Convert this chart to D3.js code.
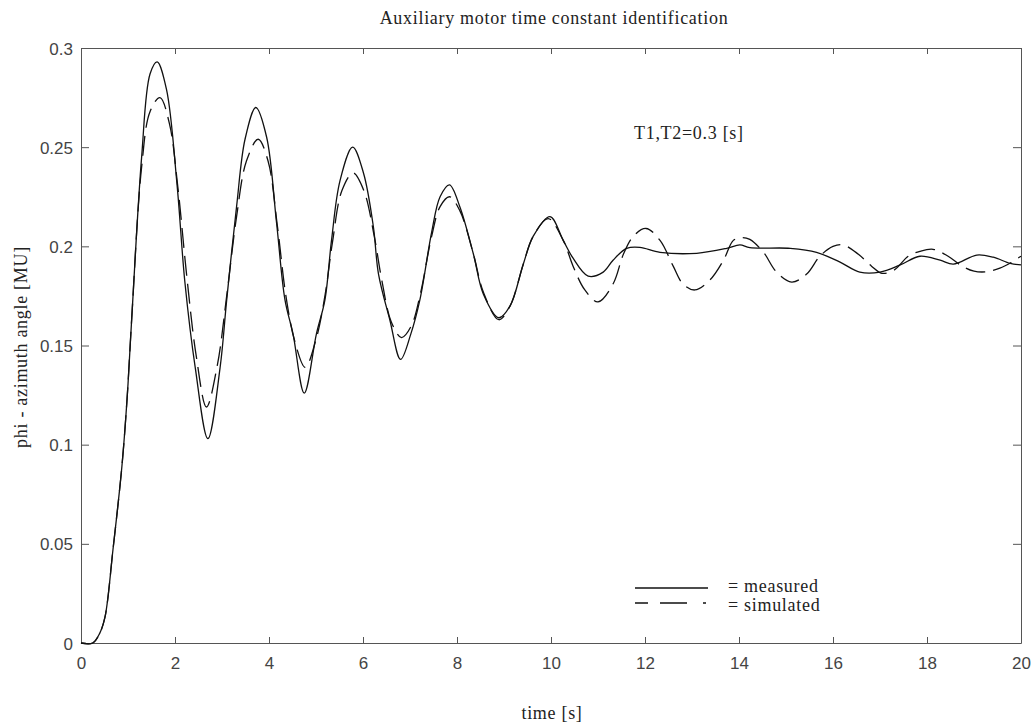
<!DOCTYPE html>
<html>
<head>
<meta charset="utf-8">
<script src="https://cdn.jsdelivr.net/npm/d3@7"></script>
<style>
  body { margin: 0; background: #fff; }
  .tick text { font-family: "Liberation Sans", Arial, sans-serif; font-size: 17px; fill: #444; }
  .domain, .tick line { stroke: #555; }
  .lbl { font-family: "Liberation Serif", "Times New Roman", serif; font-size: 18px; letter-spacing: 0.7px; fill: #222; }
</style>
</head>
<body>
<script>
// data
var xTicks = [0, 2, 4, 6, 8, 10, 12, 14, 16, 18, 20];
var yTicks = [0, 0.05, 0.1, 0.15, 0.2, 0.25, 0.3];
var yTickLabels = ['0', '0.05', '0.1', '0.15', '0.2', '0.25', '0.3'];

var measuredT = [0, 0.25, 0.4, 0.51, 0.68, 0.87, 0.98, 1.08, 1.29, 1.47, 1.62, 1.82, 2.04, 2.21, 2.43, 2.70,
  2.96, 3.10, 3.31, 3.49, 3.72, 3.95, 4.16, 4.34, 4.51, 4.75, 5.01, 5.19, 5.33, 5.51, 5.78, 6.01, 6.22,
  6.33, 6.57, 6.80, 7.02, 7.21, 7.46, 7.64, 7.84, 8.06, 8.35, 8.56, 8.89, 9.13, 9.41, 9.62, 9.98, 10.26,
  10.47, 10.79, 11.11, 11.32, 11.61, 11.89, 12.32, 13.1, 13.74, 14.02, 14.23, 15.09, 15.65, 16.15, 16.57,
  17.0, 17.43, 17.85, 18.28, 18.56, 19.06, 19.41, 19.77, 20];
var measuredV = [0, 0, 0.005, 0.013, 0.047, 0.089, 0.123, 0.164, 0.245, 0.287, 0.293, 0.279, 0.232, 0.182, 0.139, 0.103,
  0.139, 0.173, 0.220, 0.254, 0.270, 0.255, 0.212, 0.173, 0.156, 0.126, 0.156, 0.173, 0.203, 0.233, 0.250, 0.237, 0.210,
  0.186, 0.163, 0.143, 0.156, 0.173, 0.207, 0.225, 0.231, 0.220, 0.196, 0.176, 0.164, 0.170, 0.191, 0.205, 0.215, 0.203,
  0.194, 0.185, 0.187, 0.193, 0.199, 0.1995, 0.197, 0.1965, 0.199, 0.2007, 0.1993, 0.199, 0.197, 0.192, 0.187,
  0.187, 0.1906, 0.195, 0.193, 0.191, 0.1956, 0.1945, 0.1914, 0.1906];

var simulatedT = [0, 0.25, 0.4, 0.51, 0.68, 0.87, 0.98, 1.08, 1.29, 1.47, 1.68, 1.88, 2.06, 2.25, 2.45, 2.67,
  2.90, 3.10, 3.31, 3.52, 3.77, 3.98, 4.18, 4.36, 4.55, 4.77, 5.00, 5.19, 5.35, 5.55, 5.79, 6.02, 6.24,
  6.40, 6.60, 6.82, 7.03, 7.22, 7.46, 7.64, 7.84, 8.06, 8.35, 8.56, 8.89, 9.13, 9.41, 9.62, 9.94, 10.26,
  10.47, 10.72, 11.0, 11.32, 11.54, 11.75, 12.02, 12.32, 12.6, 12.81, 13.06, 13.38, 13.67, 13.88, 14.06,
  14.23, 14.52, 14.8, 15.12, 15.44, 15.72, 16.0, 16.22, 16.54, 16.82, 17.04, 17.3, 17.6, 17.85, 18.13,
  18.45, 18.75, 19.0, 19.27, 19.55, 19.8, 20];
var simulatedV = [0, 0, 0.005, 0.013, 0.047, 0.089, 0.123, 0.164, 0.240, 0.268, 0.275, 0.262, 0.230, 0.185, 0.145, 0.119,
  0.140, 0.175, 0.215, 0.243, 0.254, 0.243, 0.210, 0.175, 0.152, 0.139, 0.153, 0.175, 0.202, 0.228, 0.237, 0.228, 0.205,
  0.183, 0.162, 0.154, 0.160, 0.176, 0.205, 0.220, 0.225, 0.218, 0.196, 0.177, 0.163, 0.170, 0.191, 0.205, 0.214, 0.203,
  0.190, 0.178, 0.172, 0.181, 0.196, 0.205, 0.209, 0.203, 0.190, 0.181, 0.178, 0.183, 0.193, 0.203, 0.2044,
  0.2035, 0.197, 0.187, 0.182, 0.186, 0.195, 0.200, 0.2007, 0.196, 0.190, 0.1864, 0.188, 0.195, 0.1975, 0.1985,
  0.195, 0.190, 0.1875, 0.1872, 0.189, 0.192, 0.195];

var W = 1035, H = 726;
var svg = d3.select('body').append('svg').attr('width', W).attr('height', H);

var x = d3.scaleLinear().domain([0, 20]).range([81, 1021]);
var y = d3.scaleLinear().domain([0, 0.3]).range([643, 48]);

// axes box with inward ticks on all four sides
var gx = svg.append('g').attr('transform', 'translate(0,643)')
  .call(d3.axisBottom(x).tickValues(xTicks).tickSizeInner(-6).tickSizeOuter(0).tickFormat(d3.format('d')));
gx.selectAll('.tick text').attr('y', 26).attr('dy', 0);
var gxt = svg.append('g').attr('transform', 'translate(0,48)')
  .call(d3.axisTop(x).tickValues(xTicks).tickSizeInner(-6).tickSizeOuter(0).tickFormat(''));
var gy = svg.append('g').attr('transform', 'translate(81,0)')
  .call(d3.axisLeft(y).tickValues(yTicks).tickSizeInner(-8).tickSizeOuter(0)
    .tickFormat(function (d, i) { return yTickLabels[i]; }));
gy.selectAll('.tick text').attr('x', -8).attr('dy', '0.36em');
var gyr = svg.append('g').attr('transform', 'translate(1021,0)')
  .call(d3.axisRight(y).tickValues(yTicks).tickSizeInner(-8).tickSizeOuter(0).tickFormat(''));

var lineFunc = d3.line()
  .x(function (d) { return x(d[0]); })
  .y(function (d) { return y(d[1]); })
  .curve(d3.curveCatmullRom.alpha(0.5));

var measured = measuredT.map(function (t, i) { return [t, measuredV[i]]; });
var simulated = simulatedT.map(function (t, i) { return [t, simulatedV[i]]; });

svg.append('path').datum(simulated)
  .attr('d', lineFunc)
  .attr('fill', 'none').attr('stroke', '#111').attr('stroke-width', 1.3)
  .attr('stroke-dasharray', '20,8');
svg.append('path').datum(measured)
  .attr('d', lineFunc)
  .attr('fill', 'none').attr('stroke', '#111').attr('stroke-width', 1.3);

// texts
svg.append('text').attr('class', 'lbl').attr('x', 554).attr('y', 24)
  .attr('text-anchor', 'middle').text('Auxiliary motor time constant identification');
svg.append('text').attr('class', 'lbl').attr('x', 552).attr('y', 719)
  .attr('text-anchor', 'middle').text('time [s]');
svg.append('text').attr('class', 'lbl')
  .attr('transform', 'translate(27,347) rotate(-90)')
  .attr('text-anchor', 'middle').text('phi - azimuth angle [MU]');
svg.append('text').attr('class', 'lbl').attr('x', 634).attr('y', 139)
  .text('T1,T2=0.3 [s]');

// legend
svg.append('line').attr('x1', 635).attr('x2', 708).attr('y1', 588).attr('y2', 588)
  .attr('stroke', '#111').attr('stroke-width', 1.3);
svg.append('line').attr('x1', 635).attr('x2', 708).attr('y1', 603).attr('y2', 603)
  .attr('stroke', '#111').attr('stroke-width', 1.3).attr('stroke-dasharray', '13,12,27,16,3,20');
svg.append('text').attr('class', 'lbl').attr('x', 728).attr('y', 592).text('= measured');
svg.append('text').attr('class', 'lbl').attr('x', 728).attr('y', 611).text('= simulated');
</script>
</body>
</html>
